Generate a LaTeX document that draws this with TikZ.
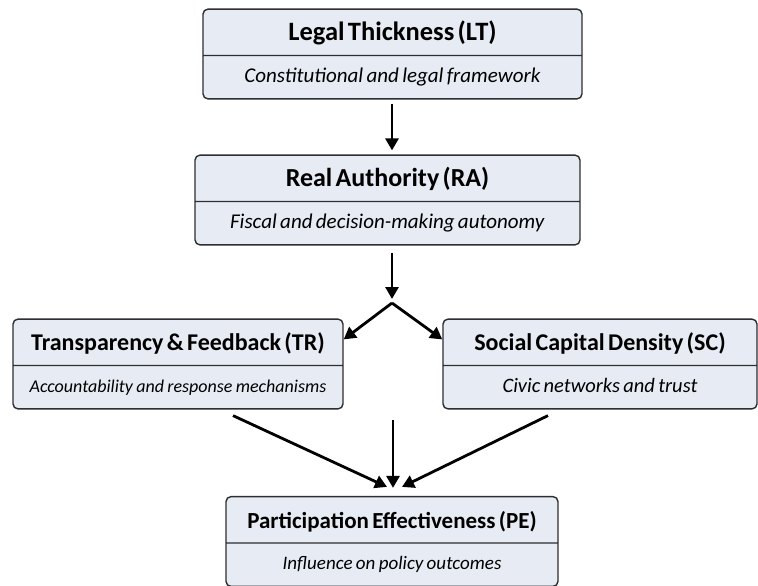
\documentclass[tikz,border=0pt]{standalone}
\usepackage{fontspec}
\setmainfont{Carlito}
\usepackage{tikz}
\usetikzlibrary{shapes.multipart, arrows.meta, positioning, calc}
\definecolor{boxfill}{RGB}{231,235,243}
\definecolor{boxline}{RGB}{45,45,50}
% title and subtitle of a box: size, text
\newcommand{\ttl}[2]{\rule[-14pt]{0pt}{45pt}\textbf{\fontsize{#1}{#1}\selectfont #2}}
\newcommand{\sbt}[2]{\rule[-16pt]{0pt}{42pt}\textit{\fontsize{#1}{#1}\selectfont #2}}

\begin{document}
\begin{tikzpicture}[
    x=1pt, y=-1pt,
    factor/.style={rectangle split, rectangle split parts=2, draw=boxline, line width=1.4pt, fill=boxfill, rounded corners=5pt, align=center, inner xsep=4pt, inner ysep=0pt},
    arrow/.style={-{Triangle[length=12pt, width=13pt]}, line width=2.8pt, black}
]
    \useasboundingbox (0,0) rectangle (758,586);

    % Boxes
    \node[factor, text width=371pt] (LT) at (392.5, 54) {\ttl{26.5}{Legal Thickness (LT)}\nodepart{two}\sbt{21}{Constitutional and legal framework}};
    \node[factor, text width=377pt] (RA) at (387.5, 200) {\ttl{26}{Real Authority (RA)}\nodepart{two}\sbt{21}{Fiscal and decision-making autonomy}};
    \node[factor, text width=322pt] (TR) at (178, 364) {\ttl{24}{Transparency \& Feedback (TR)}\nodepart{two}\sbt{18}{Accountability and response mechanisms}};
    \node[factor, text width=306pt] (SC) at (600, 364) {\ttl{24}{Social Capital Density (SC)}\nodepart{two}\sbt{20.5}{Civic networks and trust}};
    \node[factor, text width=324pt] (PE) at (392, 541.5) {\ttl{23}{Participation Effectiveness (PE)}\nodepart{two}\sbt{19}{Influence on policy outcomes}};

    % Points
    \coordinate (fork) at (392, 303);
    \coordinate (midtop) at (393, 420);

    % Arrows
    \draw[arrow, shorten <=4pt, shorten >=4pt] (LT.south -| fork) -- (RA.north -| fork);
    \draw[arrow, shorten <=7pt, shorten >=4pt] (RA.south -| fork) -- (fork);
    \draw[arrow] (fork) -- ($(TR.north east)+(0,21)$);
    \draw[arrow] (fork) -- ($(SC.north west)+(0,21)$);

    \draw[arrow] ($(TR.south)+(55,6)$) -- ($(PE.north)+(-5,-9)$);
    \draw[arrow] (midtop) -- ($(PE.north)+(1,-8)$);
    \draw[arrow] ($(SC.south)+(-52,6)$) -- ($(PE.north)+(10,-9)$);

\end{tikzpicture}
\end{document}
